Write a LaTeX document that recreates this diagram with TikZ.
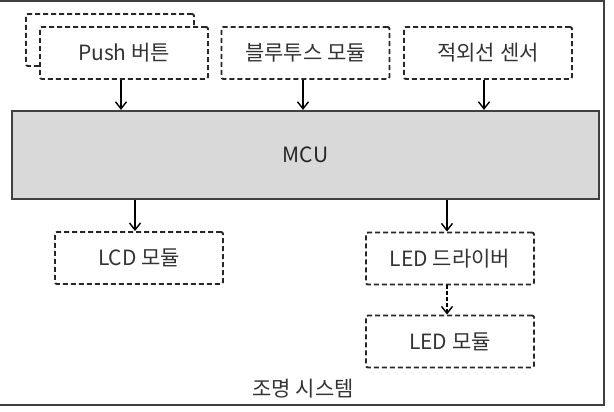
\documentclass[tikz,border=0pt]{standalone}
\usepackage{fontspec}
\setmainfont{Noto Sans CJK KR}
\usetikzlibrary{positioning, arrows.meta}
\tikzset{
>={Straight Barb[length=7pt, width=11pt, line width=1.4pt]}, % open arrow heads
module/.style={draw=black!85, line width=1.9pt, dash pattern=on 5pt off 3pt,
  rounded corners=2pt, fill=white, minimum width=168pt, minimum height=52pt,
  font=\fontsize{21}{23}\selectfont, text=black!80}, % dashed module boxes
mcu/.style={draw=black!75, line width=2.2pt, fill=black!15, minimum width=587pt,
  minimum height=88pt, font=\fontsize{21}{23}\selectfont, text=black!85},
link/.style={->, line width=1.9pt},
}
\begin{document}
\begin{tikzpicture}[x=1pt, y=-1pt]
\useasboundingbox (0,0) rectangle (614,412);
% outer frame of the system
\draw[draw=black!75, line width=2.6pt] (-10,1) rectangle (604,405);
\node[font=\fontsize{21}{23}\selectfont, text=black!80] (system) at (303,389) {조명 시스템};

% input side
\node[module] (push_back) at (110,40) {};
\node[module] (push) at (124,53) {Push 버튼};
\node[module] (bt) at (305.5,53) {블루투스 모듈};
\node[module] (ir) at (488,53) {적외선 센서};

\node[mcu] (mcu) at (305.5,155) {MCU};

% output side
\node[module] (lcd) at (139,258) {LCD 모듈};
\node[module] (driver) at (450,258.5) {LED 드라이버};
\node[module] (led) at (450,341.5) {LED 모듈};

\draw[link] (push.south -| 121,0) -- (mcu.north -| 121,0);
\draw[link] (bt.south -| 303,0) -- (mcu.north -| 303,0);
\draw[link] (ir.south -| 484,0) -- (mcu.north -| 484,0);
\draw[link] (mcu.south -| lcd.north) ++(-4,0) coordinate (lcd_in) -- (lcd_in |- lcd.north);
\draw[link] (mcu.south -| driver.north) ++(-3,0) coordinate (drv_in) -- (drv_in |- driver.north);
\draw[link, dash pattern=on 3.5pt off 2.5pt] (drv_in |- driver.south) -- (drv_in |- led.north);
\end{tikzpicture}
\end{document}
